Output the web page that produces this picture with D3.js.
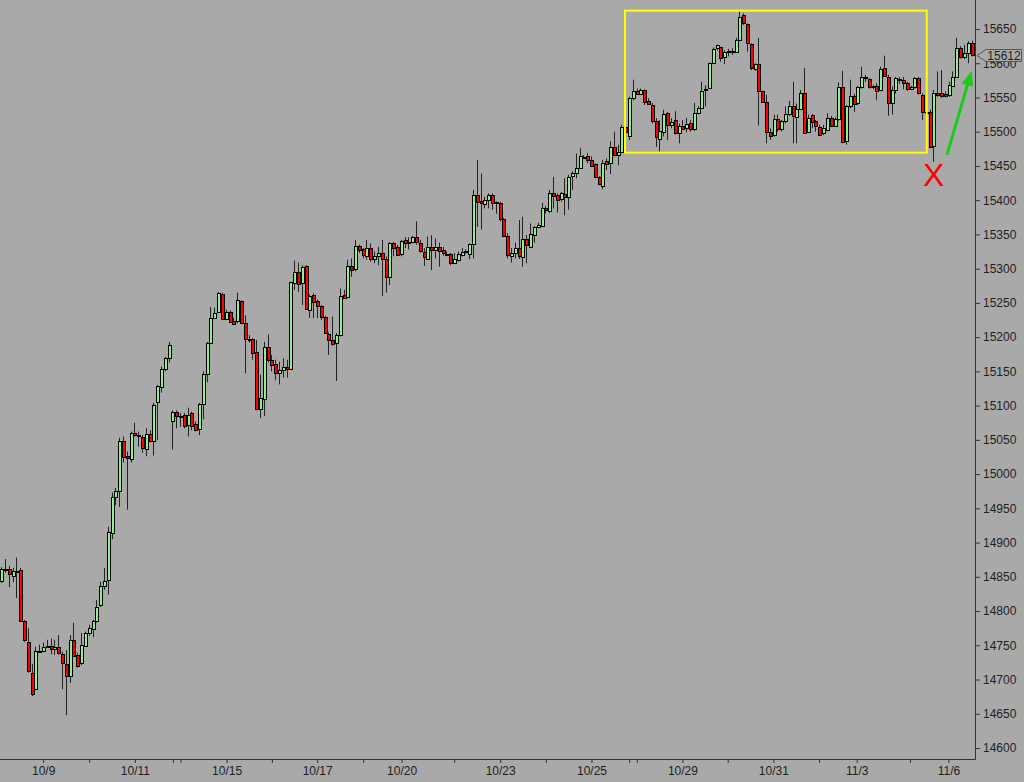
<!DOCTYPE html>
<html><head><meta charset="utf-8">
<script src="https://cdn.jsdelivr.net/npm/d3@7"></script>
<style>html,body{margin:0;padding:0;background:#a9a9a9;}svg{display:block}</style>
</head><body>
<svg id="chart" width="1024" height="782"></svg>
<script>
// ---- Data (bar index = position in arrays) ----
const open = [14844,14860,14861,14851,14859,14860,14786,14755,14710,14686,14742,14742,14749,14749,14745,14748,14737,14723,14705,14758,
14736,14725,14749,14767,14774,14786,14808,14837,14845,14914,14967,14976,15049,15027,15022,15060,15057,15054,15037,15059,
15049,15104,15128,15154,15170,15078,15091,15085,15086,15072,15089,15073,15066,15102,15146,15192,15228,15237,15263,15227,
15237,15224,15223,15253,15221,15198,15198,15178,15095,15109,15186,15166,15161,15148,15152,15157,15153,15279,15295,15278,
15304,15239,15262,15253,15245,15230,15205,15196,15191,15203,15262,15258,15304,15299,15333,15328,15319,15330,15314,15318,
15323,15314,15287,15337,15331,15321,15342,15339,15338,15346,15337,15325,15315,15332,15328,15331,15327,15321,15321,15308,
15313,15320,15325,15322,15336,15408,15399,15395,15401,15408,15396,15396,15372,15347,15319,15322,15330,15318,15344,15332,
15349,15361,15362,15388,15385,15411,15408,15401,15409,15405,15434,15439,15448,15462,15465,15459,15453,15434,15422,15457,
15454,15478,15466,15471,15507,15493,15549,15559,15555,15561,15545,15539,15515,15490,15500,15527,15509,15517,15499,15509,
15505,15512,15503,15527,15535,15560,15563,15600,15621,15623,15608,15617,15617,15616,15634,15670,15657,15628,15592,15599,
15560,15544,15499,15494,15518,15504,15516,15525,15537,15522,15533,15557,15500,15525,15515,15507,15497,15503,15520,15508,
15518,15565,15486,15537,15552,15541,15565,15580,15577,15566,15567,15561,15593,15580,15542,15561,15576,15575,15571,15562,
15565,15578,15554,15529,15529,15478,15557,15556,15555,15554,15567,15580,15622,15609,15615,15629];
const high = [14864,14876,14866,14863,14878,14863,14787,14775,14723,14748,14751,14754,14758,14760,14758,14765,14741,14743,14765,14783,
14739,14768,14770,14780,14787,14816,14843,14863,14923,14973,14980,15053,15055,15033,15062,15075,15062,15057,15067,15064,
15104,15130,15157,15171,15193,15093,15093,15089,15089,15097,15091,15077,15104,15150,15193,15244,15243,15266,15265,15240,
15239,15228,15265,15254,15232,15203,15199,15196,15145,15193,15204,15174,15167,15164,15169,15167,15281,15312,15309,15305,
15305,15262,15264,15255,15247,15231,15207,15230,15206,15271,15269,15313,15315,15342,15335,15330,15342,15337,15325,15332,
15342,15318,15339,15339,15335,15342,15346,15346,15348,15369,15342,15330,15347,15349,15344,15338,15332,15325,15323,15323,
15325,15330,15328,15337,15415,15459,15439,15405,15410,15410,15398,15398,15374,15352,15330,15338,15371,15376,15349,15366,
15362,15367,15396,15391,15415,15434,15410,15412,15432,15437,15442,15468,15476,15466,15469,15464,15454,15435,15459,15461,
15486,15500,15481,15510,15510,15551,15576,15563,15563,15562,15549,15542,15520,15517,15532,15529,15520,15530,15512,15517,
15520,15517,15542,15537,15573,15568,15601,15623,15627,15624,15619,15621,15622,15637,15676,15673,15658,15629,15600,15637,
15560,15554,15505,15525,15525,15517,15537,15545,15573,15541,15561,15593,15525,15526,15517,15510,15510,15527,15523,15521,
15572,15589,15539,15576,15555,15567,15595,15583,15578,15568,15571,15595,15611,15583,15566,15580,15580,15580,15573,15567,
15580,15580,15556,15535,15532,15561,15588,15590,15559,15573,15588,15637,15625,15627,15632,15633];
const low = [14841,14856,14835,14842,14819,14784,14755,14710,14676,14685,14740,14740,14746,14737,14736,14736,14686,14648,14695,14733,
14717,14721,14748,14764,14762,14783,14806,14831,14824,14905,14955,14952,15017,14948,15017,15055,15040,15031,15026,15046,
15027,15050,15119,15150,15163,15036,15067,15069,15067,15055,15064,15062,15057,15080,15134,15190,15227,15235,15225,15225,
15221,15218,15220,15220,15147,15192,15167,15093,15082,15085,15163,15150,15137,15131,15141,15141,15152,15269,15266,15247,
15240,15228,15228,15228,15225,15205,15174,15187,15136,15201,15257,15257,15288,15296,15323,15315,15313,15310,15308,15305,
15260,15265,15276,15318,15319,15318,15330,15328,15337,15335,15323,15304,15313,15298,15315,15303,15319,15318,15305,15307,
15310,15318,15322,15314,15315,15361,15357,15388,15388,15386,15380,15369,15346,15315,15309,15315,15314,15303,15308,15331,
15338,15359,15361,15381,15381,15388,15382,15398,15378,15386,15415,15432,15447,15460,15454,15449,15432,15422,15416,15444,
15438,15464,15451,15469,15498,15488,15546,15554,15554,15539,15539,15512,15478,15471,15493,15488,15505,15496,15483,15503,
15499,15500,15501,15525,15533,15537,15562,15599,15619,15602,15599,15610,15612,15615,15633,15656,15617,15590,15589,15509,
15543,15483,15488,15493,15500,15500,15512,15523,15483,15483,15532,15497,15498,15505,15500,15494,15495,15502,15507,15507,
15516,15483,15481,15534,15529,15539,15563,15573,15563,15562,15546,15559,15580,15523,15525,15556,15570,15562,15560,15561,
15563,15554,15517,15517,15476,15456,15551,15549,15550,15551,15565,15579,15607,15606,15600,15610];
const close = [14861,14861,14854,14858,14858,14786,14758,14712,14679,14741,14741,14748,14748,14745,14748,14739,14724,14705,14757,14735,
14720,14751,14768,14775,14786,14806,14836,14844,14915,14967,14976,15049,15026,15024,15060,15057,15055,15038,15059,15049,
15101,15128,15154,15170,15189,15091,15085,15084,15070,15086,15070,15064,15102,15146,15192,15228,15235,15265,15227,15237,
15222,15220,15254,15221,15197,15197,15177,15095,15111,15185,15167,15158,15148,15152,15157,15154,15280,15295,15278,15302,
15241,15260,15252,15245,15229,15206,15196,15190,15203,15260,15258,15304,15298,15333,15327,15319,15330,15314,15319,15323,
15314,15287,15337,15330,15320,15340,15338,15337,15346,15338,15325,15318,15332,15328,15332,15325,15323,15322,15308,15314,
15322,15325,15326,15336,15408,15398,15396,15401,15408,15396,15397,15372,15347,15319,15323,15330,15318,15344,15335,15351,
15361,15364,15388,15385,15411,15406,15401,15410,15405,15434,15439,15447,15465,15463,15459,15450,15434,15424,15455,15453,
15477,15466,15471,15507,15500,15549,15559,15555,15561,15544,15541,15515,15491,15501,15526,15509,15514,15498,15509,15504,
15511,15503,15527,15534,15560,15562,15600,15621,15626,15607,15616,15618,15618,15634,15668,15658,15629,15593,15599,15560,
15544,15500,15493,15518,15504,15515,15526,15537,15523,15533,15557,15499,15520,15515,15507,15495,15505,15520,15508,15518,
15565,15484,15537,15552,15541,15565,15580,15579,15566,15567,15560,15591,15581,15542,15561,15578,15577,15570,15562,15565,
15578,15556,15529,15527,15478,15556,15554,15551,15552,15568,15580,15622,15609,15615,15629,15612];

const yTickValues = [14600,14650,14700,14750,14800,14850,14900,14950,15000,15050,15100,15150,15200,15250,15300,15350,15400,15450,15500,15550,15600,15650];
const xTickBars = [10.9,23,35,45,47,59.1,71,82.9,95,105.1,118.9,131,143,155,164.9,166.9,178.9,190.8,202.8,214.8,224.7,238.7,248.8];
const xTickLabels = ["10/9","","10/11","","","10/15","","10/17","","10/20","","10/23","","10/25","","","10/29","","10/31","","11/3","","11/6"];

const boxBars = [163.8, 243.1];
const boxPrices = [15676.8, 15469.4];
const lastPrice = 15612;
const markBar = 244.9, markPrice = 15437, markText = "X";
const arrowBars = [248.4, 254.9];
const arrowPrices = [15466, 15589];

// ---- Drawing ----
const W = 1024, H = 782;
const plotRight = 975, plotBottom = 759;
const svg = d3.select("#chart");
svg.append("rect").attr("width", W).attr("height", H).attr("fill", "#a9a9a9");

const N = open.length;
const x = d3.scaleLinear().domain([0, N - 1]).range([1.7, 972]);
const y = d3.scaleLinear().domain([14600, 15650]).range([748, 29]);

const bars = d3.range(N).map(i => ({i, o: open[i], h: high[i], l: low[i], c: close[i]}));
const g = svg.append("g");
const cx = d => Math.round(x(d.i) - 0.5);

g.selectAll("line.wick").data(bars).join("line")
  .attr("class", "wick")
  .attr("x1", d => cx(d) + 0.5).attr("x2", d => cx(d) + 0.5)
  .attr("y1", d => y(d.h)).attr("y2", d => y(d.l))
  .attr("stroke", "#222").attr("stroke-width", 1);

g.selectAll("rect.body").data(bars).join("rect")
  .attr("class", "body")
  .attr("x", d => cx(d) - 0.5)
  .attr("width", 3)
  .attr("y", d => Math.round(y(Math.max(d.o, d.c))) + 0.5)
  .attr("height", d => Math.max(1, Math.round(Math.abs(y(d.o) - y(d.c)))))
  .attr("fill", d => d.c >= d.o ? "#90ee90" : "#ff0000")
  .attr("stroke", "#000").attr("stroke-width", 1);

// yellow box
svg.append("rect")
  .attr("x", x(boxBars[0])).attr("y", y(boxPrices[0]))
  .attr("width", x(boxBars[1]) - x(boxBars[0]))
  .attr("height", y(boxPrices[1]) - y(boxPrices[0]))
  .attr("fill", "none").attr("stroke", "#ffff00").attr("stroke-width", 2);

// axes
const font = "'Liberation Sans', Arial, sans-serif";
const xAxis = d3.axisBottom(x).tickValues(xTickBars)
  .tickFormat((d, i) => xTickLabels[i]).tickSize(4).tickPadding(3).tickSizeOuter(0);
const gx = svg.append("g").attr("transform", `translate(0,${plotBottom})`).call(xAxis);
gx.select(".domain").remove();
gx.selectAll(".tick line").attr("stroke", "#333");
gx.selectAll(".tick text").attr("fill", "#1e1e1e").style("font-family", font).style("font-size", "12px");

const yAxis = d3.axisRight(y).tickValues(yTickValues).tickFormat(d3.format("d"))
  .tickSize(5).tickPadding(3).tickSizeOuter(0);
const gy = svg.append("g").attr("transform", `translate(${plotRight},0)`).call(yAxis);
gy.select(".domain").remove();
gy.selectAll(".tick line").attr("stroke", "#333");
gy.selectAll(".tick text").attr("fill", "#1e1e1e").style("font-family", font).style("font-size", "12px");

svg.append("line").attr("x1", 0).attr("x2", plotRight + 0.5)
  .attr("y1", plotBottom + 0.5).attr("y2", plotBottom + 0.5).attr("stroke", "#333");
svg.append("line").attr("x1", plotRight + 0.5).attr("x2", plotRight + 0.5)
  .attr("y1", 0).attr("y2", plotBottom + 0.5).attr("stroke", "#333");

// last price tag
const yc = Math.round(y(lastPrice)) + 0.5;
svg.append("polygon")
  .attr("points", [[977, yc], [986, yc - 6], [1021.5, yc - 6], [1021.5, yc + 6], [986, yc + 6]].map(p => p.join(",")).join(" "))
  .attr("fill", "#ababab").attr("stroke", "#555").attr("stroke-width", 1);
svg.append("text").attr("x", 1004).attr("y", yc).attr("dy", "0.35em")
  .attr("text-anchor", "middle").attr("fill", "#1e1e1e")
  .style("font-family", font).style("font-size", "12px").text(lastPrice);

// red X
svg.append("text").attr("x", x(markBar)).attr("y", y(markPrice)).attr("dy", "0.36em")
  .attr("text-anchor", "middle").attr("fill", "#ff0000")
  .style("font-family", font).style("font-size", "32px").text(markText);

// green arrow
const p0 = [x(arrowBars[0]), y(arrowPrices[0])];
const p1 = [x(arrowBars[1]), y(arrowPrices[1])];
const dx = p1[0] - p0[0], dy = p1[1] - p0[1];
const len = Math.hypot(dx, dy);
const ux = dx / len, uy = dy / len, nx = -uy, ny = ux;
const headL = 15, headW = 6;
const base = [p1[0] - ux * headL, p1[1] - uy * headL];
svg.append("line").attr("x1", p0[0]).attr("y1", p0[1]).attr("x2", base[0] + ux * 2).attr("y2", base[1] + uy * 2)
  .attr("stroke", "#1ec81e").attr("stroke-width", 3);
svg.append("polygon")
  .attr("points", [p1, [base[0] + nx * headW, base[1] + ny * headW], [base[0] - nx * headW, base[1] - ny * headW]].map(p => p.join(",")).join(" "))
  .attr("fill", "#1ec81e");
</script>
</body></html>
